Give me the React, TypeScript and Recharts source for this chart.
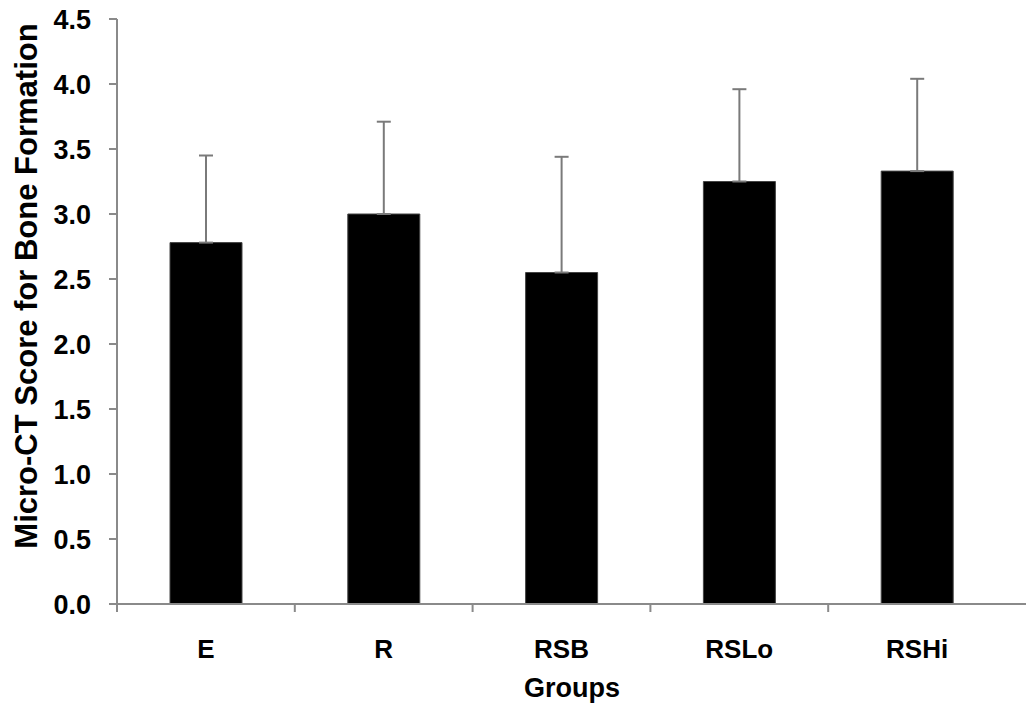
import React from 'react';
import { BarChart, Bar, XAxis, YAxis, ErrorBar } from 'recharts';

const groups = ['E', 'R', 'RSB', 'RSLo', 'RSHi'];
const scores = [2.78, 3.0, 2.55, 3.25, 3.33];
const sdUpper = [0.67, 0.71, 0.89, 0.71, 0.71];
const yTicks = [0, 0.5, 1, 1.5, 2, 2.5, 3, 3.5, 4, 4.5];

const data = groups.map((g, i) => ({
  group: g,
  score: scores[i],
  err: [0, sdUpper[i]],
}));

const font = '"Liberation Sans", Arial, sans-serif';
const axisGray = '#8a8a8a';

const GroupTick = (props: any) => {
  const { x, y, payload } = props;
  const half = payload && payload.offset ? payload.offset : 88.9;
  return (
    <g>
      <line x1={x - half} y1={y - 8} x2={x - half} y2={y} stroke={axisGray} strokeWidth={2} />
      <text x={x} y={y + 46} textAnchor="middle" fontFamily={font} fontWeight="bold" fontSize={26} fill="#000">
        {payload.value}
      </text>
    </g>
  );
};

const YTitle = () => (
  <text
    x={37}
    y={286}
    transform="rotate(-90 37 286)"
    textAnchor="middle"
    fontFamily={font}
    fontWeight="bold"
    fontSize={31}
    fill="#000"
  >
    Micro-CT Score for Bone Formation
  </text>
);

const XTitle = () => (
  <text x={572} y={697} textAnchor="middle" fontFamily={font} fontWeight="bold" fontSize={27} fill="#000">
    Groups
  </text>
);

export default function App() {
  return (
    <div style={{ position: 'absolute', left: 0, top: 0, background: '#fff' }}>
      <BarChart
        width={1026}
        height={709}
        data={data}
        margin={{ top: 19, right: 0, bottom: 0, left: 0 }}
        barSize={72}
      >
        <XAxis
          dataKey="group"
          padding={{ left: 0, right: 20 }}
          axisLine={{ stroke: axisGray, strokeWidth: 2 }}
          tickLine={false}
          tickSize={8}
          tickMargin={0}
          tick={<GroupTick />}
          interval={0}
          height={105}
          label={<XTitle />}
        />
        <YAxis
          width={117}
          domain={[0, 4.5]}
          ticks={yTicks}
          interval={0}
          tickFormatter={(v: number) => v.toFixed(1)}
          axisLine={{ stroke: axisGray, strokeWidth: 2 }}
          tickLine={{ stroke: axisGray, strokeWidth: 2 }}
          tickSize={8}
          tickMargin={18}
          tick={{ fontFamily: font, fontWeight: 'bold', fontSize: 27, fill: '#000' }}
          label={<YTitle />}
        />
        <Bar dataKey="score" fill="#000" stroke="#444" strokeWidth={1} isAnimationActive={false}>
          <ErrorBar dataKey="err" direction="y" width={7} stroke="#7a7a7a" strokeWidth={2} isAnimationActive={false} />
        </Bar>
      </BarChart>
    </div>
  );
}
